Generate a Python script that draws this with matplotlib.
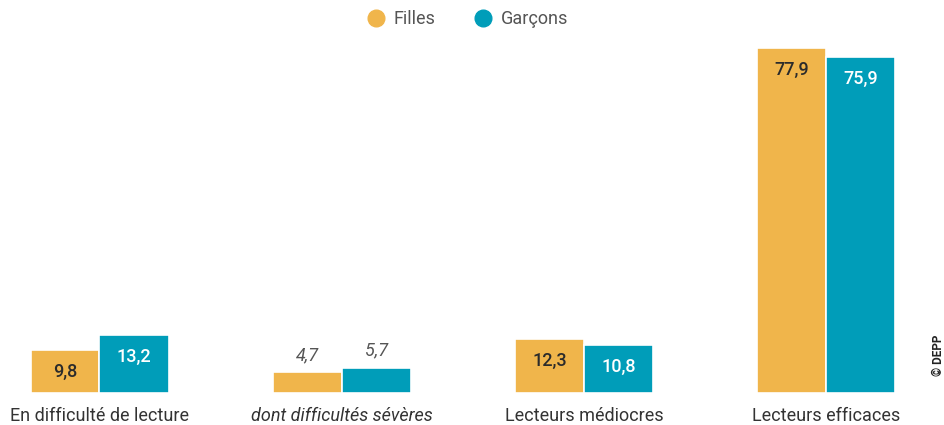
import matplotlib
matplotlib.use("Agg")
import matplotlib.pyplot as plt
from matplotlib.lines import Line2D
import numpy as np

categories = ["En difficulté de lecture", "dont difficultés sévères",
              "Lecteurs médiocres", "Lecteurs efficaces"]
filles = [9.8, 4.7, 12.3, 77.9]
garcons = [13.2, 5.7, 10.8, 75.9]
series_names = ["Filles", "Garçons"]

c_orange = "#F0B54B"
c_teal = "#009DB9"

plt.rcParams['font.family'] = ['Roboto', 'DejaVu Sans']

W, H = 944, 425
fig = plt.figure(figsize=(W / 100, H / 100), dpi=100)
ax_right_px = 900
ax = fig.add_axes([0, (H - 393) / H, ax_right_px / W, (393 - 38.7) / H])

px_per_unit = 242.2
c0 = 99.5
ax.set_xlim(-c0 / px_per_unit, (ax_right_px - c0) / px_per_unit)
ax.set_ylim(0, 80)

x = np.arange(len(categories))
w = 69 / px_per_unit
off = 34.5 / px_per_unit
ax.bar(x - off, filles, width=w, color=c_orange, edgecolor="white", linewidth=1.2)
ax.bar(x + off, garcons, width=w, color=c_teal, edgecolor="white", linewidth=1.2)

ppu_y = (393 - 38.7) / 80.0
def fmt(v):
    return f"{v:.1f}".replace(".", ",")

for i in range(len(categories)):
    for xs, v, col in ((x[i] - off, filles[i], "#2b2b2b"), (x[i] + off, garcons[i], "white")):
        if i == 1:
            ax.text(xs, v + 17 / ppu_y, fmt(v), ha="center", va="center",
                    fontsize=13, style="italic", color="#555555")
        else:
            ax.text(xs, v - 22 / ppu_y, fmt(v), ha="center", va="center",
                    fontsize=13, fontweight="medium", color=col)

for s in ax.spines.values():
    s.set_visible(False)
ax.set_yticks([])
ax.set_xticks(x)
ax.set_xticklabels(categories, fontsize=13, color="#333333")
ax.tick_params(axis="x", length=0, pad=10)
ax.get_xticklabels()[1].set_style("italic")

handles = [Line2D([], [], marker="o", linestyle="", markersize=12, color=c_orange),
           Line2D([], [], marker="o", linestyle="", markersize=12, color=c_teal)]
fig.legend(handles, series_names, loc="center", bbox_to_anchor=(0.5 - 9 / W, 1 - 19 / H),
           ncol=2, frameon=False, fontsize=13, handletextpad=0.0, columnspacing=1.6,
           labelcolor="#555555")

fig.text(938 / W, 1 - 355 / H, "© DEPP", rotation=90, ha="center", va="center",
         fontsize=8.5, fontweight="bold", color="#222222")

fig.savefig("out.png", dpi=100)
